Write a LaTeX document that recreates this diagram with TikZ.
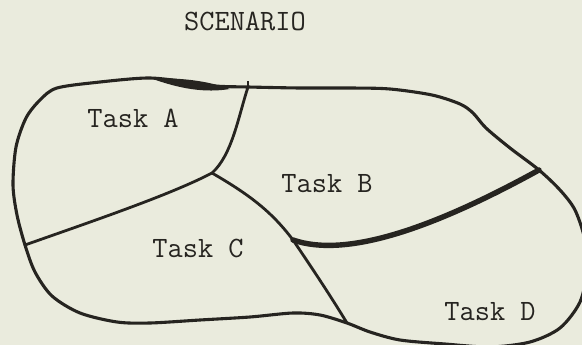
\documentclass[tikz,border=0pt]{standalone}
\usepackage{fontspec}
\definecolor{paper}{RGB}{234,235,221}
\definecolor{ink}{RGB}{38,36,32}
\begin{document}
\begin{tikzpicture}[x=1pt,y=-1pt,
  outline/.style={draw=ink,line width=3.1pt,line join=round,line cap=round},
  divider/.style={draw=ink,line width=2.8pt,line cap=round},
  heavy/.style={draw=ink,line width=5.4pt,line cap=round},
  lbl/.style={font=\fontsize{29.5}{32}\selectfont\ttfamily\addfontfeature{FakeBold=1.2},text=ink,inner sep=0pt,anchor=base}]
\fill[paper] (0,0) rectangle (582,345);
\useasboundingbox (0,0) rectangle (582,345);
\clip (0,0) rectangle (582,345);
% junctions
\coordinate (J1) at (248,87);
\coordinate (J2) at (212,173);
\coordinate (J3) at (25,245);
\coordinate (J4) at (539,170);
\coordinate (J5) at (293,240);
\coordinate (J6) at (347,323);
% outer outline
\draw[outline] plot[smooth cycle,tension=0.5] coordinates {
 (57,88) (100,82) (147,78) (180,81) (215,86) (248,87) (300,88) (350,88)
 (390,89) (432,95) (460,104) (473,113) (486,128) (510,148) (539,170)
 (560,190) (575,210) (585,240) (587,270) (580,302) (560,328) (530,342)
 (490,347) (445,344) (400,340) (370,332) (347,323) (320,315) (293,313)
 (250,317) (200,320) (150,323) (117,322) (80,313) (52,296) (35,272)
 (25,245) (17,215) (13,185) (16,147) (26,118) (40,100)};
% thick blot on the top edge
\fill[ink] (150,78) .. controls (180,78) and (205,80) .. (230,89)
  .. controls (205,93) and (180,89) .. (150,78) -- cycle;
\draw[ink,line width=2pt] (J1) -- ++(0,-6);
% dividers
\draw[divider] (J1) .. controls (238,118) and (232,155) .. (J2);
\draw[divider] (J3) .. controls (90,222) and (170,195) .. (J2);
\draw[divider] (J2) .. controls (250,195) and (272,212) .. (J5)
  .. controls (310,265) and (330,295) .. (J6);
\draw[heavy] (J5) .. controls (345,258) and (430,230) .. (J4);
% labels
\node[lbl] (title) at (245,31) {SCENARIO};
\node[lbl] (ta) at (133,128) {Task A};
\node[lbl] (tb) at (327,193) {Task B};
\node[lbl] (tc) at (198,257) {Task C};
\node[lbl] (td) at (490,320) {Task D};
\end{tikzpicture}
\end{document}
